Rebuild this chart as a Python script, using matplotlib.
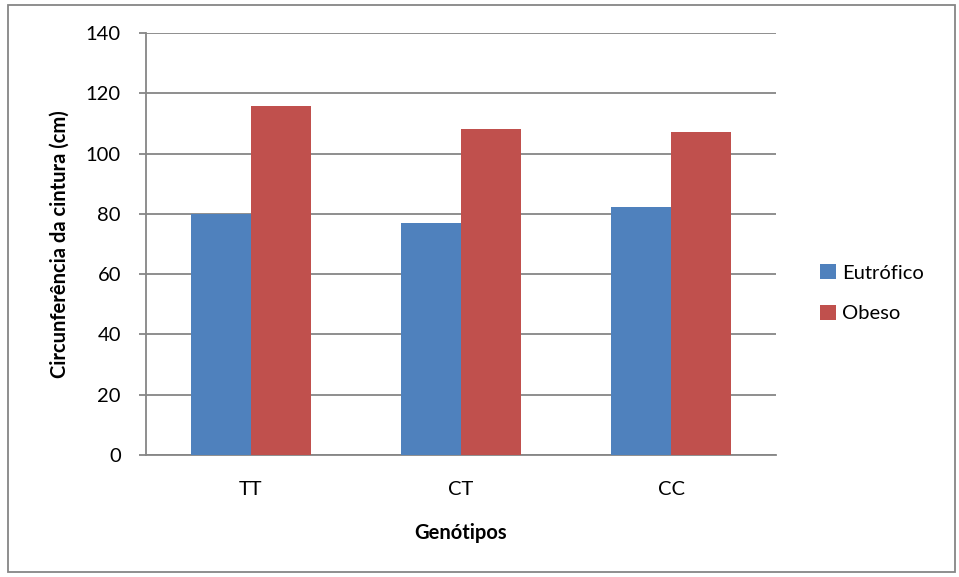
import matplotlib
matplotlib.use('Agg')
import matplotlib.pyplot as plt
import numpy as np
from matplotlib.patches import Rectangle

plt.rcParams['font.family'] = ['Lato', 'DejaVu Sans']

# Circunferência da cintura por genótipo
genotipos = ['TT', 'CT', 'CC']
eutrofico = [79.8, 77.1, 82.4]
obeso = [115.7, 108.3, 107.0]

cor_eutrofico = '#4F81BD'
cor_obeso = '#C0504D'
cinza = '#868686'
fs = 14.5

fig = plt.figure(figsize=(9.59, 5.77), dpi=100)
ax = fig.add_axes([0.1522, 0.2114, 0.657, 0.7314])

x = np.arange(len(genotipos))
largura = 0.286
ax.bar(x - largura / 2, eutrofico, largura, color=cor_eutrofico, label='Eutrófico', zorder=3)
ax.bar(x + largura / 2, obeso, largura, color=cor_obeso, label='Obeso', zorder=3)

ax.set_xlim(-0.5, 2.5)
ax.set_ylim(0, 140)
ax.set_yticks(range(0, 141, 20))
ax.set_xticks(x)
ax.set_xticklabels(genotipos)

ax.grid(axis='y', color=cinza, linewidth=1.3, zorder=0)
for lado in ['top', 'right']:
    ax.spines[lado].set_visible(False)
for lado in ['left', 'bottom']:
    ax.spines[lado].set_color(cinza)
    ax.spines[lado].set_linewidth(1.3)
ax.tick_params(axis='y', colors=cinza, labelcolor='black', labelsize=fs, length=5, width=1.3, pad=13)
ax.tick_params(axis='x', length=0, labelsize=fs, pad=19)

ax.set_ylabel('Circunferência da cintura (cm)', fontsize=fs, fontweight='bold', va='center')
ax.yaxis.set_label_coords(-0.1365, 0.5)
ax.set_xlabel('Genótipos', fontsize=fs, fontweight='bold', va='center')
ax.xaxis.set_label_coords(0.5, -0.185)

ax.legend(loc='center left', bbox_to_anchor=(820 / 959, 0.492), bbox_transform=fig.transFigure,
          frameon=False, fontsize=fs, borderpad=0, borderaxespad=0,
          handlelength=0.8, handleheight=0.8, handletextpad=0.3, labelspacing=1.15)

# moldura externa do gráfico
fig.patches.append(Rectangle((8 / 959, 5 / 577), 947 / 959, 567 / 577, transform=fig.transFigure,
                             fill=False, edgecolor=cinza, linewidth=1.3))

fig.savefig('out.png', dpi=100)
